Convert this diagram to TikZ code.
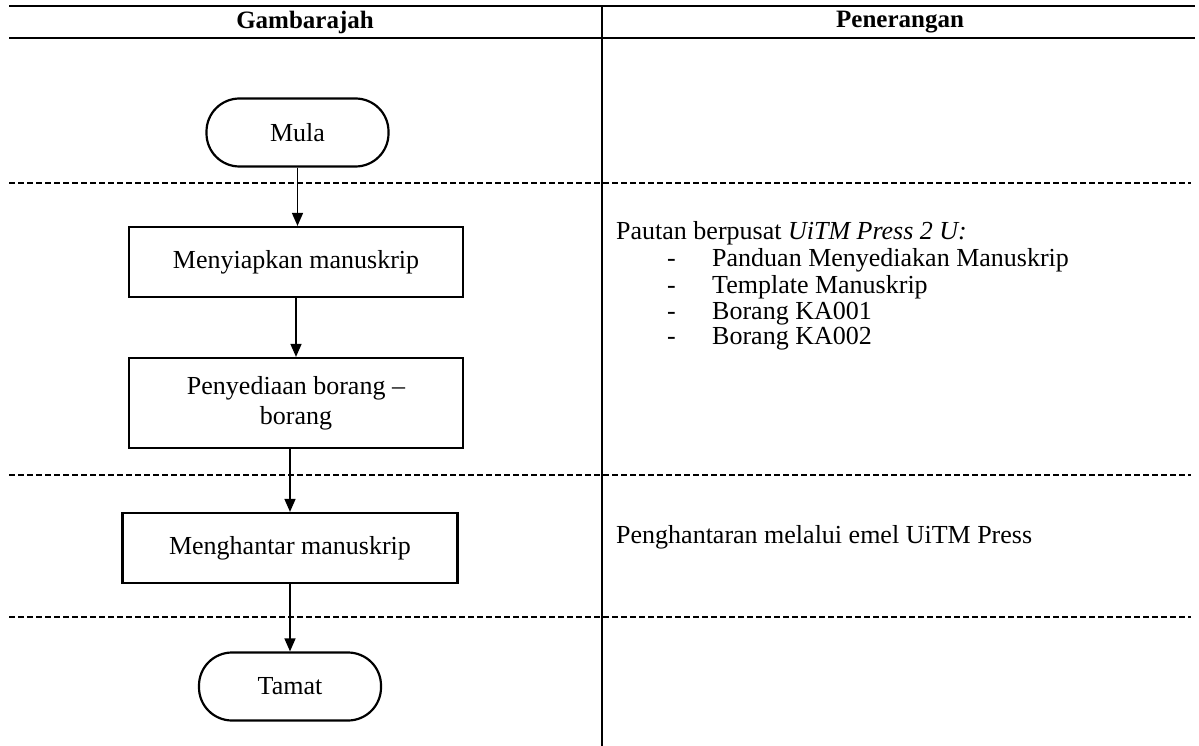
\documentclass[tikz,border=0pt]{standalone}
\usepackage{fontspec}
\setmainfont{Liberation Serif}
\usepackage{tikz}
\usetikzlibrary{arrows.meta, positioning}

\begin{document}
\begin{tikzpicture}[x=1pt, y=-1pt, >={Triangle[width=11pt,length=13pt]}, node distance=2cm, on grid,
    every node/.style={font=\fontsize{26pt}{30pt}\selectfont},
    terminal/.style={draw, line width=2.2pt, rounded corners=33pt, minimum width=182pt, minimum height=68pt},
    proses/.style={draw, line width=2.2pt, minimum width=334pt, minimum height=70pt, align=center},
    teks/.style={anchor=west, inner sep=0pt, text height=18pt, text depth=6pt},
    garis/.style={dash pattern=on 6pt off 3pt, line width=1.3pt}]
            \useasboundingbox (0,0) rectangle (1199,746);

            % table frame
            \draw[line width=2.6pt] (9,6) -- (1195,6);
            \draw[line width=2.6pt] (9,38) -- (1195,38);
            \draw[line width=2pt] (601.5,6) -- (601.5,746);
            \node[font=\fontsize{25pt}{30pt}\selectfont\bfseries] (Gambar) at (305,22) {Gambarajah};
            \node[font=\fontsize{25pt}{30pt}\selectfont\bfseries] (Terang) at (900,22) {Penerangan};

            % row separators
            \draw[garis] (9,183) -- (1191,183);
            \draw[garis] (9,475) -- (1191,475);
            \draw[garis] (9,617) -- (1191,617);

            % flow
            \node[terminal] (Mula) at (297.5,132.5) {Mula};
            \node[proses, below=129.5pt of Mula, xshift=-1.5pt] (Siap) {Menyiapkan manuskrip};
            \node[proses, below=141pt of Siap, minimum height=90pt] (Borang) {Penyediaan borang --\\borang};
            \node[proses, below=145pt of Borang, xshift=-6pt, minimum width=335pt] (Hantar) {Menghantar manuskrip};
            \node[terminal, below=138.5pt of Hantar] (Tamat) {Tamat};

            \draw[->, line width=1.5pt] (Mula) -- (Mula |- Siap.north);
            \draw[->, line width=1.5pt] (Siap) -- (Borang);
            \draw[->, line width=1.5pt] (Borang.south -| Hantar) -- (Hantar);
            \draw[->, line width=1.5pt] (Hantar) -- (Tamat);

            % notes
            \node[teks] (Pautan) at (616,233) {Pautan berpusat \textit{UiTM Press 2 U:}};
            \foreach \y/\item [count=\i] in {260/Panduan Menyediakan Manuskrip, 287/Template Manuskrip, 313/Borang KA001, 338/Borang KA002} {
                \node[teks] (Sempang\i) at (667,\y) {-};
                \node[teks] (Item\i) at (712,\y) {\item};
            }
            \node[teks] (Emel) at (616,537) {Penghantaran melalui emel UiTM Press};
        \end{tikzpicture}
\end{document}
